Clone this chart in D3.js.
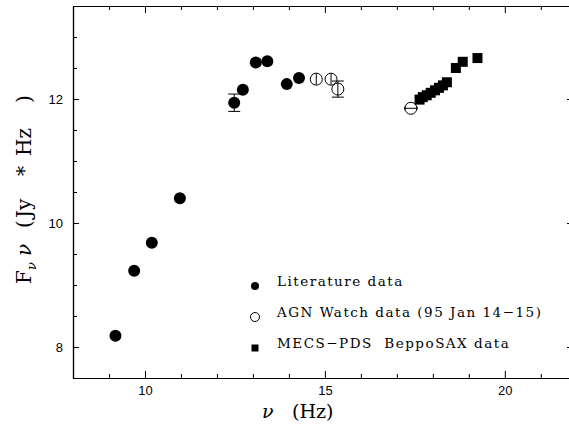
<!DOCTYPE html>
<html>
<head>
<meta charset="utf-8">
<script src="https://cdn.jsdelivr.net/npm/d3@7"></script>
<style>
  body { margin: 0; background: #fff; }
  svg { display: block; font-family: "DejaVu Serif", serif; }
</style>
</head>
<body>
<script>
// literature data (filled circles)
var litX = [9.18, 9.70, 10.19, 10.97, 12.48, 12.72, 13.08, 13.40, 13.94, 14.28];
var litY = [8.18, 9.23, 9.68, 10.40, 11.94, 12.15, 12.59, 12.61, 12.24, 12.34];
var litErr = [0, 0, 0, 0, 0.14, 0, 0, 0, 0, 0];

// AGN Watch data (open circles)
var agnX = [14.76, 15.17, 15.36, 17.39];
var agnY = [12.32, 12.32, 12.16, 11.85];
var agnYErr = [0.09, 0.09, 0.13, 0];
var agnXErr = [0, 0, 0, 0.17];

// MECS-PDS BeppoSAX data (squares)
var saxX = [17.63, 17.72, 17.83, 17.94, 18.06, 18.17, 18.28, 18.39, 18.64, 18.83, 19.24];
var saxY = [11.99, 12.03, 12.06, 12.10, 12.14, 12.18, 12.22, 12.27, 12.50, 12.60, 12.66];

var xMajor = [10, 15, 20];
var yMajor = [8, 10, 12];
var legendLabels = ["Literature data", "AGN Watch data (95 Jan 14\u221215)", "MECS\u2212PDS  BeppoSAX data"];

var width = 569, height = 426;

var x = d3.scaleLinear().domain([8, 21.95]).range([73, 575]);
var y = d3.scaleLinear().domain([7.5, 13.5]).range([378, 6]);

var svg = d3.select("body").append("svg")
  .attr("width", width)
  .attr("height", height);

var xMinor = d3.range(8, 22.01, 1).filter(d => xMajor.indexOf(d) < 0);
var yMinor = d3.range(7.5, 13.51, 0.5).filter(d => yMajor.indexOf(d) < 0);

// axes, ticks on all four sides pointing inwards
function frameAxis(axis, pos) {
  var g = svg.append("g").attr("transform", pos);
  g.call(axis);
  g.select(".domain").attr("stroke", "#000").attr("stroke-width", 1.2);
  g.selectAll(".tick line").attr("stroke", "#000");
  g.selectAll("text").attr("font-size", 13).attr("fill", "#000");
  return g;
}

var x0 = x.range()[0], x1 = x.range()[1];
var y0 = y.range()[0], y1 = y.range()[1];

frameAxis(d3.axisBottom(x).tickValues(xMinor).tickSize(-4).tickFormat("").tickSizeOuter(0), `translate(0,${y0})`);
frameAxis(d3.axisBottom(x).tickValues(xMajor).tickSize(-7).tickPadding(8).tickFormat(d3.format("d")).tickSizeOuter(0), `translate(0,${y0})`);
frameAxis(d3.axisTop(x).tickValues(xMinor).tickSize(-4).tickFormat("").tickSizeOuter(0), `translate(0,${y1})`);
frameAxis(d3.axisTop(x).tickValues(xMajor).tickSize(-7).tickFormat("").tickSizeOuter(0), `translate(0,${y1})`);
frameAxis(d3.axisLeft(y).tickValues(yMinor).tickSize(-4).tickFormat("").tickSizeOuter(0), `translate(${x0},0)`);
frameAxis(d3.axisLeft(y).tickValues(yMajor).tickSize(-6).tickPadding(10).tickFormat(d3.format("d")).tickSizeOuter(0), `translate(${x0},0)`);
frameAxis(d3.axisRight(y).tickValues(yMinor).tickSize(-4).tickFormat("").tickSizeOuter(0), `translate(${x1},0)`);
frameAxis(d3.axisRight(y).tickValues(yMajor).tickSize(-8).tickFormat("").tickSizeOuter(0), `translate(${x1},0)`);

// axis titles
var xl = svg.append("text")
  .attr("y", 418)
  .attr("font-size", 19);
xl.append("tspan").attr("x", 262).attr("font-style", "italic").text("\u03bd");
xl.append("tspan").attr("x", 292).text("(Hz)");

// rotated: tspan x = -(pixel y where the piece starts)
var yl = svg.append("text")
  .attr("transform", "translate(31,0) rotate(-90)")
  .attr("font-size", 20);
yl.append("tspan").attr("x", -284).text("F");
yl.append("tspan").attr("x", -270).attr("dy", 5).attr("font-size", 13).attr("font-style", "italic").text("\u03bd");
yl.append("tspan").attr("x", -256).attr("dy", -5).attr("font-style", "italic").text("\u03bd");
yl.append("tspan").attr("x", -228).text("(");
yl.append("tspan").attr("x", -218).text("Jy");
yl.append("tspan").attr("x", -176).text("*");
yl.append("tspan").attr("x", -156).text("Hz");
yl.append("tspan").attr("x", -103).text(")");

var plot = svg.append("g");

// error bars
var lit = litX.map((d, i) => ({x: d, y: litY[i], e: litErr[i]}));
var agn = agnX.map((d, i) => ({x: d, y: agnY[i], ey: agnYErr[i], ex: agnXErr[i]}));
var sax = saxX.map((d, i) => ({x: d, y: saxY[i]}));

function vbar(d, e) {
  return `M${x(d.x)},${y(d.y - e)}V${y(d.y + e)}` +
    `M${x(d.x) - 6},${y(d.y - e)}h12M${x(d.x) - 6},${y(d.y + e)}h12`;
}

plot.selectAll(".litErr").data(lit.filter(d => d.e > 0)).join("path")
  .attr("d", d => vbar(d, d.e))
  .attr("stroke", "#000").attr("fill", "none");

plot.selectAll(".lit").data(lit).join("circle")
  .attr("cx", d => x(d.x)).attr("cy", d => y(d.y)).attr("r", 6)
  .attr("fill", "#000");

plot.selectAll(".agn").data(agn).join("circle")
  .attr("cx", d => x(d.x)).attr("cy", d => y(d.y)).attr("r", 6)
  .attr("fill", "none").attr("stroke", "#000").attr("stroke-width", 1);

plot.selectAll(".agnErr").data(agn).join("path")
  .attr("d", d => {
    var p = "";
    if (d.ey > 0.1) p += vbar(d, d.ey);
    else if (d.ey > 0) p += `M${x(d.x)},${y(d.y - d.ey)}V${y(d.y + d.ey)}`;
    if (d.ex > 0) p += `M${x(d.x - d.ex)},${y(d.y)}H${x(d.x + d.ex)}` +
      `M${x(d.x - d.ex)},${y(d.y) - 1.5}v3M${x(d.x + d.ex)},${y(d.y) - 1.5}v3`;
    return p;
  })
  .attr("stroke", "#000").attr("fill", "none");

plot.selectAll(".sax").data(sax).join("rect")
  .attr("x", d => x(d.x) - 5).attr("y", d => y(d.y) - 5)
  .attr("width", 10).attr("height", 10)
  .attr("fill", "#000");

// legend
var lg = svg.append("g").attr("transform", "translate(255,286)");
var rows = lg.selectAll("g").data(legendLabels).join("g")
  .attr("transform", (d, i) => `translate(0,${i * 31})`);
rows.filter((d, i) => i === 0).append("circle").attr("r", 4).attr("fill", "#000");
rows.filter((d, i) => i === 1).append("circle").attr("r", 4.5)
  .attr("fill", "none").attr("stroke", "#000");
rows.filter((d, i) => i === 2).append("rect")
  .attr("x", -3.5).attr("y", -3.5).attr("width", 7).attr("height", 7).attr("fill", "#000");
rows.append("text")
  .attr("x", 22).attr("y", 0)
  .attr("font-size", 13.5)
  .attr("letter-spacing", 1.5)
  .attr("xml:space", "preserve")
  .text(d => d);
</script>
</body>
</html>
